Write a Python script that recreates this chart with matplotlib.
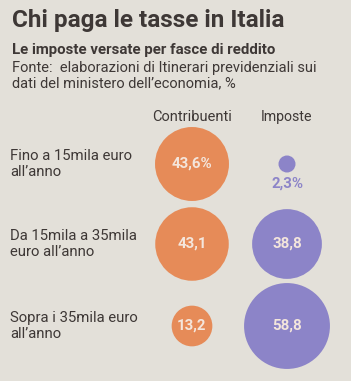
import numpy as np
import matplotlib.pyplot as plt
from matplotlib.patches import Circle

rows = ["Fino a 15mila euro\nall\u2019anno",
        "Da 15mila a 35mila\neuro all\u2019anno",
        "Sopra i 35mila euro\nall\u2019anno"]
contribuenti = [43.6, 43.1, 13.2]
imposte = [2.3, 38.8, 58.8]
contrib_labels = ["43,6%", "43,1", "13,2"]
imposte_labels = ["2,3%", "38,8", "58,8"]

bg = "#e3e0d9"
orange = "#e68b58"
purple = "#8c84c8"
ink = "#3e3836"

plt.rcParams['font.family'] = ['Roboto', 'DejaVu Sans']

fig = plt.figure(figsize=(3.51, 3.81), dpi=100, facecolor=bg)
ax = fig.add_axes([0, 0, 1, 1])
ax.set_xlim(0, 351)
ax.set_ylim(381, 0)
ax.set_aspect('equal')
ax.axis('off')

ax.text(12, 20, "Chi paga le tasse in Italia", fontsize=17.5, fontweight='bold',
        color=ink, va='center', ha='left')
ax.text(12, 50, "Le imposte versate per fasce di reddito", fontsize=10.8,
        fontweight='bold', color=ink, va='center', ha='left')
ax.text(12, 76, "Fonte:  elaborazioni di Itinerari previdenziali sui\ndati del ministero dell\u2019economia, %",
        fontsize=10.5, color=ink, va='center', ha='left', linespacing=1.1)

col_x = [192, 287]
row_y = [164, 244, 326]
k = 5.6  # px per sqrt(unit), area-proportional bubbles

ax.text(col_x[0], 117, "Contribuenti", fontsize=10.5, color=ink, ha='center', va='center')
ax.text(col_x[1], 117, "Imposte", fontsize=10.2, color=ink, ha='center', va='center')

for i, name in enumerate(rows):
    ax.text(10, row_y[i], name, fontsize=10.7, color=ink, ha='left', va='center',
            linespacing=1.15)
    for j, (vals, labs, col) in enumerate([(contribuenti, contrib_labels, orange),
                                           (imposte, imposte_labels, purple)]):
        r = k * np.sqrt(vals[i])
        ax.add_patch(Circle((col_x[j], row_y[i]), r, color=col, lw=0))
        if r > 15:
            ax.text(col_x[j], row_y[i], labs[i], fontsize=10.8, fontweight='bold',
                    color="#f4e6dc", ha='center', va='center')
        else:
            ax.text(col_x[j], row_y[i] + r + 11, labs[i], fontsize=10.8,
                    fontweight='bold', color=purple, ha='center', va='center')

plt.savefig("out.png", dpi=100, facecolor=bg)
